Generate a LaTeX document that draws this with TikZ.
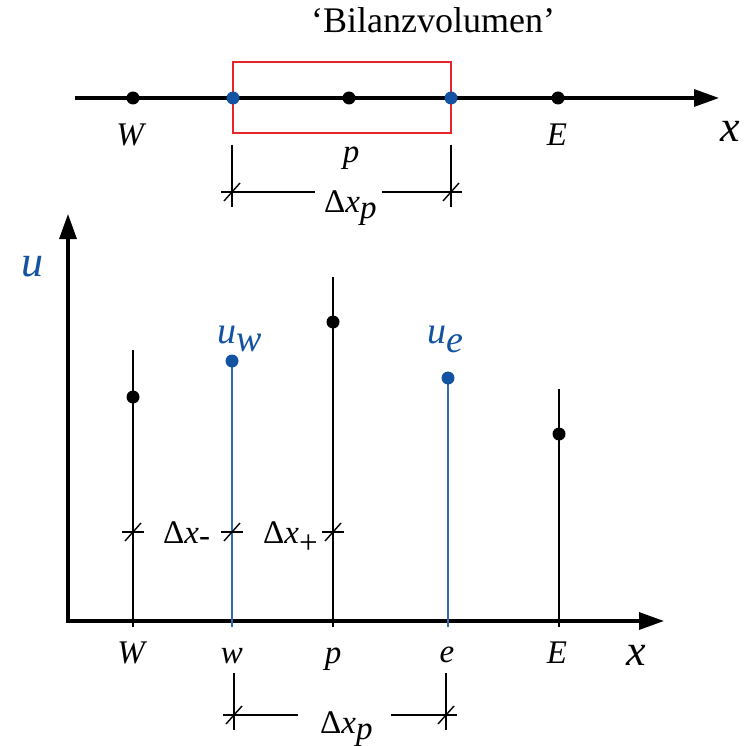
\documentclass[tikz,border=0pt]{standalone}
\usepackage{fontspec}
\setmainfont{Liberation Serif}
\usetikzlibrary{positioning,arrows.meta}
\definecolor{ink}      {HTML}{000000}
\definecolor{fvblue}   {HTML}{1452A2}
\definecolor{stemblue} {HTML}{2E6CB8}
\definecolor{cvred}    {HTML}{E8232A}
\tikzset{
  >={Triangle[length=25pt,width=17pt]},
  every node/.style={font=\fontsize{33}{36}\selectfont, inner sep=0pt},
  % --- nodes
  pt/.style    = {circle, fill=ink, inner sep=0pt, minimum size=13pt},
  ptb/.style   = {pt, fill=fvblue},
  lbl/.style   = {font=\fontsize{33}{36}\selectfont\itshape, anchor=base},
  big/.style   = {font=\fontsize{44}{48}\selectfont\itshape, anchor=base},
  blbl/.style  = {font=\fontsize{38}{42}\selectfont\itshape, text=fvblue, anchor=base west},
  dimlbl/.style= {font=\fontsize{33}{36}\selectfont, anchor=base west},
  % --- edges
  axis/.style  = {->, line width=3.2pt, draw=ink},
  stem/.style  = {line width=1.6pt, draw=ink},
  stemb/.style = {stem, draw=stemblue},
  dim/.style   = {line width=1.4pt, draw=ink},
}
\newcommand{\dimtick}[1]{%
  \draw[dim] ([xshift=-11pt]#1) -- ([xshift=11pt]#1);
  \draw[dim] ([xshift=-8pt,yshift=-9pt]#1) -- ([xshift=8pt,yshift=9pt]#1);}

\begin{document}
\begin{tikzpicture}[x=1pt,y=-1pt]
  \useasboundingbox (0,0) rectangle (752,746);

  % --- top: control volume on the x axis
  \node[font=\fontsize{36}{40}\selectfont, anchor=base] (bv) at (433,33) {‘Bilanzvolumen’};
  \node[draw=cvred, line width=1.4pt, minimum width=218pt, minimum height=71pt] (cv) at (342,97.5) {};
  \coordinate (ta0) at (75,98);
  \coordinate (ta1) at (719,98);
  \draw[axis] (ta0) -- (ta1);
  \node[pt]  (tW) at (133,98) {};
  \node[ptb] (tw) at (233,98) {};
  \node[pt]  (tp) at (349,98) {};
  \node[ptb] (te) at (451,98) {};
  \node[pt]  (tE) at (558,98) {};
  \node[lbl] (tWl) at (130,146) {W};
  \node[lbl] (tEl) at (557,146) {E};
  \node[lbl] (tpl) at (351,163) {p};
  \node[big] (txl) at (730,142) {x};

  % dimension of the control volume
  \coordinate (dlt) at (232,145);
  \coordinate (dlb) at (232,207);
  \coordinate (drt) at (451,145);
  \coordinate (drb) at (451,207);
  \coordinate (dl) at (232,192);
  \coordinate (dr) at (451,192);
  \draw[dim] (dlt) -- (dlb);
  \draw[dim] (drt) -- (drb);
  \node[dimlbl] (dxp) at (324,212) {Δ\textit{x}$_{\textit{p}}$};
  \draw[dim] (dl) -- ([xshift=-9pt]dxp.west |- dl);
  \draw[dim] ([xshift=5pt]dxp.east |- dr) -- (dr);
  \dimtick{dl}
  \dimtick{dr}

  % --- bottom: values over x
  \coordinate (uy) at (68,214);
  \coordinate (o)  at (68,621);
  \coordinate (ux) at (664,621);
  \draw[axis, <->, line join=miter] (uy) -- (o) -- (ux);
  \node[big, text=fvblue] (ul) at (32,276) {u};

  \coordinate (bW) at (133,627);
  \coordinate (sW) at (133,350);
  \coordinate (bw) at (232,627);
  \coordinate (sw) at (232,361);
  \coordinate (bp) at (333,627);
  \coordinate (sp) at (333,277);
  \coordinate (be) at (448,627);
  \coordinate (se) at (448,378);
  \coordinate (bE) at (559,627);
  \coordinate (sE) at (559,389);
  \draw[stem]  (bW) -- (sW);
  \draw[stemb] (bw) -- (sw);
  \draw[stem]  (bp) -- (sp);
  \draw[stemb] (be) -- (se);
  \draw[stem]  (bE) -- (sE);
  \node[pt]  (dW) at (133,397) {};
  \node[ptb] (dw) at (sw) {};
  \node[pt]  (dp) at (333,322) {};
  \node[ptb] (de) at (se) {};
  \node[pt]  (dE) at (559,434) {};
  \node[blbl] (uwl) at (217,343) {u$_{\textit{w}}$};
  \node[blbl] (uel) at (427,343) {u$_{\textit{e}}$};

  \node[lbl] (bWl) at (131,663) {W};
  \node[lbl] (bwl) at (232,663) {w};
  \node[lbl] (bpl) at (333,663) {p};
  \node[lbl] (bel) at (447,662) {e};
  \node[lbl] (bEl) at (557,663) {E};
  \node[big] (bxl) at (636,665) {x};

  % neighbour spacings
  \coordinate (mW) at (133,532);
  \coordinate (mw) at (232,532);
  \coordinate (mp) at (333,532);
  \dimtick{mW}
  \dimtick{mw}
  \dimtick{mp}
  \node[dimlbl] (dxm) at (163,543) {Δ\textit{x}$_{\textrm{-}}$};
  \node[dimlbl] (dxq) at (263,543) {Δ\textit{x}$_{\textrm{+}}$};

  % dimension of the cell
  \coordinate (ult) at (234,673);
  \coordinate (ulb) at (234,730);
  \coordinate (urt) at (446,673);
  \coordinate (urb) at (446,730);
  \coordinate (ul2) at (234,715);
  \coordinate (ur2) at (446,715);
  \draw[dim] (ult) -- (ulb);
  \draw[dim] (urt) -- (urb);
  \node[dimlbl] (dxp2) at (320,733) {Δ\textit{x}$_{\textit{p}}$};
  \draw[dim] (ul2) -- ([xshift=-22pt]dxp2.west |- ul2);
  \draw[dim] ([xshift=18pt]dxp2.east |- ur2) -- (ur2);
  \dimtick{ul2}
  \dimtick{ur2}
\end{tikzpicture}
\end{document}
